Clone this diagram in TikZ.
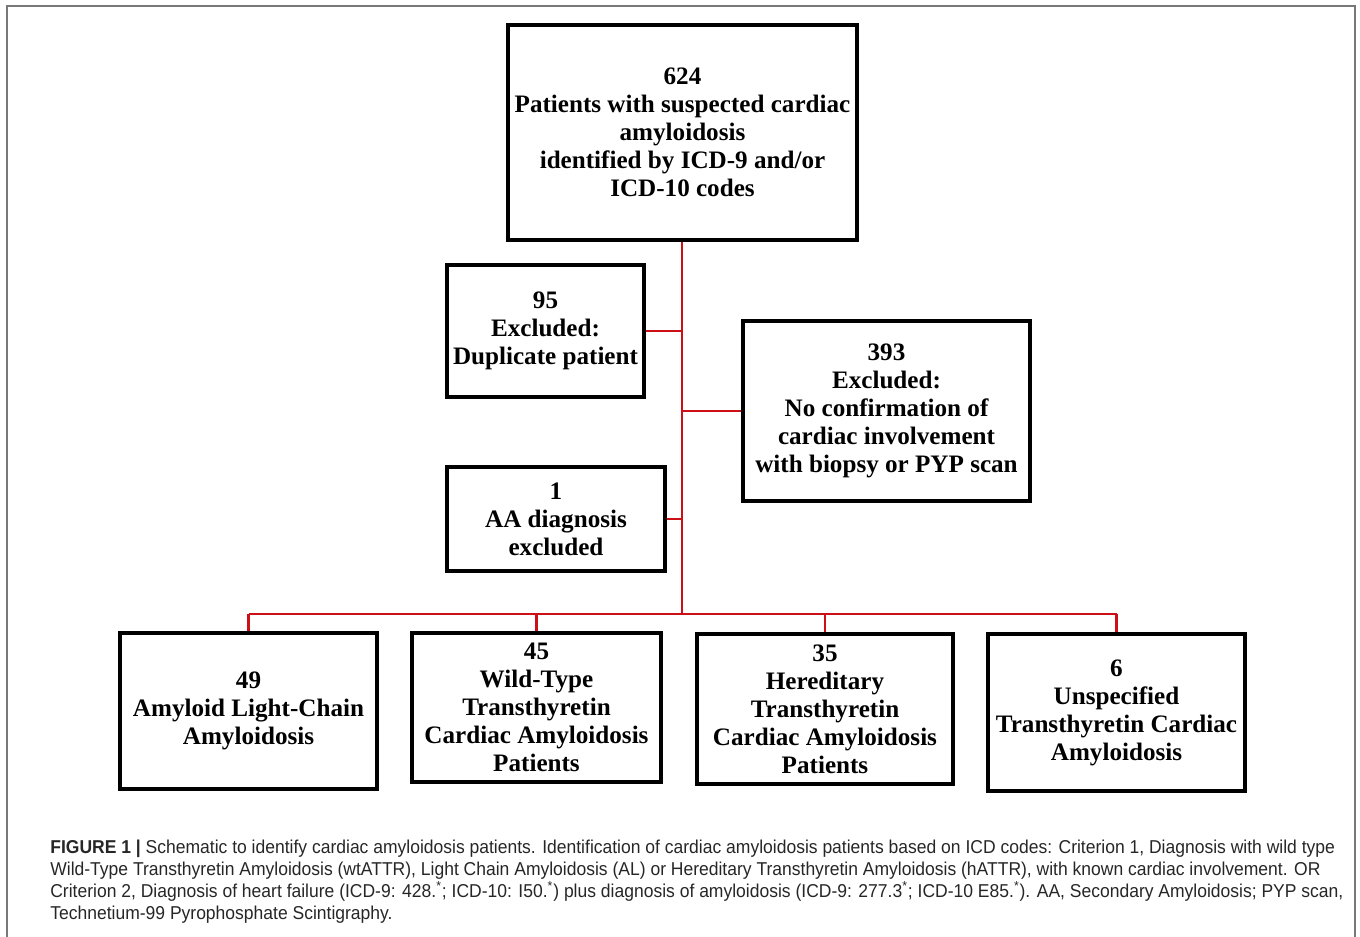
\documentclass[tikz,border=0pt]{standalone}
\usepackage{fontspec}
\setmainfont{Liberation Serif}
\newfontfamily\capfont[FakeStretch=0.94]{Liberation Sans}
\tikzset{
  box/.style={draw=black, line width=1.8pt, align=center, inner sep=2pt,
    font=\bfseries\fontsize{14.3}{15.9}\selectfont},
  link/.style={draw=linkred, line width=1.3pt}
}
\definecolor{linkred}{RGB}{204,16,22}
\definecolor{framegray}{RGB}{120,120,120}
\begin{document}
\begin{tikzpicture}[x=0.02cm, y=-0.02cm]
  \useasboundingbox (0,0) rectangle (1360,937);
  \draw[framegray, line width=1.1pt] (7,937) -- (7,6) -- (1355,6) -- (1355,937);
  % boxes
  \node[box, minimum width=6.98cm, minimum height=4.30cm] (total) at (682.5,132.5)
    {624\\Patients with suspected cardiac\\amyloidosis\\identified by ICD-9 and/or\\ICD-10 codes};
  \node[box, minimum width=3.94cm, minimum height=2.64cm] (dup) at (545.5,331)
    {95\\Excluded:\\Duplicate patient};
  \node[box, minimum width=5.74cm, minimum height=3.60cm] (noconf) at (886.5,411)
    {393\\Excluded:\\No confirmation of\\cardiac involvement\\with biopsy or PYP scan};
  \node[box, minimum width=4.36cm, minimum height=2.08cm] (aadiag) at (556,519)
    {1\\AA diagnosis\\excluded};
  \node[box, minimum width=5.14cm, minimum height=3.12cm] (al) at (248.5,711)
    {49\\Amyloid Light-Chain\\Amyloidosis};
  \node[box, minimum width=4.98cm, minimum height=2.98cm] (wt) at (536.5,707.5)
    {45\\Wild-Type\\Transthyretin\\Cardiac Amyloidosis\\Patients};
  \node[box, minimum width=5.12cm, minimum height=3.00cm] (her) at (825,709)
    {35\\Hereditary\\Transthyretin\\Cardiac Amyloidosis\\Patients};
  \node[box, minimum width=5.14cm, minimum height=3.14cm] (unsp) at (1116.5,712.5)
    {6\\Unspecified\\Transthyretin Cardiac\\Amyloidosis};
  % connectors
  \coordinate (hub) at (682,614);
  \draw[link] (total.south -| hub) -- (hub);
  \draw[link] (dup.east) -- (dup.east -| hub);
  \draw[link] (noconf.west) -- (noconf.west -| hub);
  \draw[link] (aadiag.east) -- (aadiag.east -| hub);
  \draw[link] (al.north |- hub) -- (unsp.north |- hub);
  \foreach \b in {al,wt,her,unsp}
    \draw[link] (\b.north) -- (\b.north |- hub);
  % caption
  \node[anchor=base west, align=left, inner sep=0pt, text=black!85,
    font=\capfont\fontsize{10.6}{12.5}\selectfont] (caption) at (50,919)
    {\textbf{FIGURE 1 |} Schematic to identify cardiac amyloidosis patients. Identification of cardiac amyloidosis patients based on ICD codes: Criterion 1, Diagnosis with wild type\\
     Wild-Type Transthyretin Amyloidosis (wtATTR), Light Chain Amyloidosis (AL) or Hereditary Transthyretin Amyloidosis (hATTR), with known cardiac involvement. OR\\
     Criterion 2, Diagnosis of heart failure (ICD-9: 428.\textsuperscript{*}; ICD-10: I50.\textsuperscript{*}) plus diagnosis of amyloidosis (ICD-9: 277.3\textsuperscript{*}; ICD-10 E85.\textsuperscript{*}). AA, Secondary Amyloidosis; PYP scan,\\
     Technetium-99 Pyrophosphate Scintigraphy.};
\end{tikzpicture}
\end{document}
